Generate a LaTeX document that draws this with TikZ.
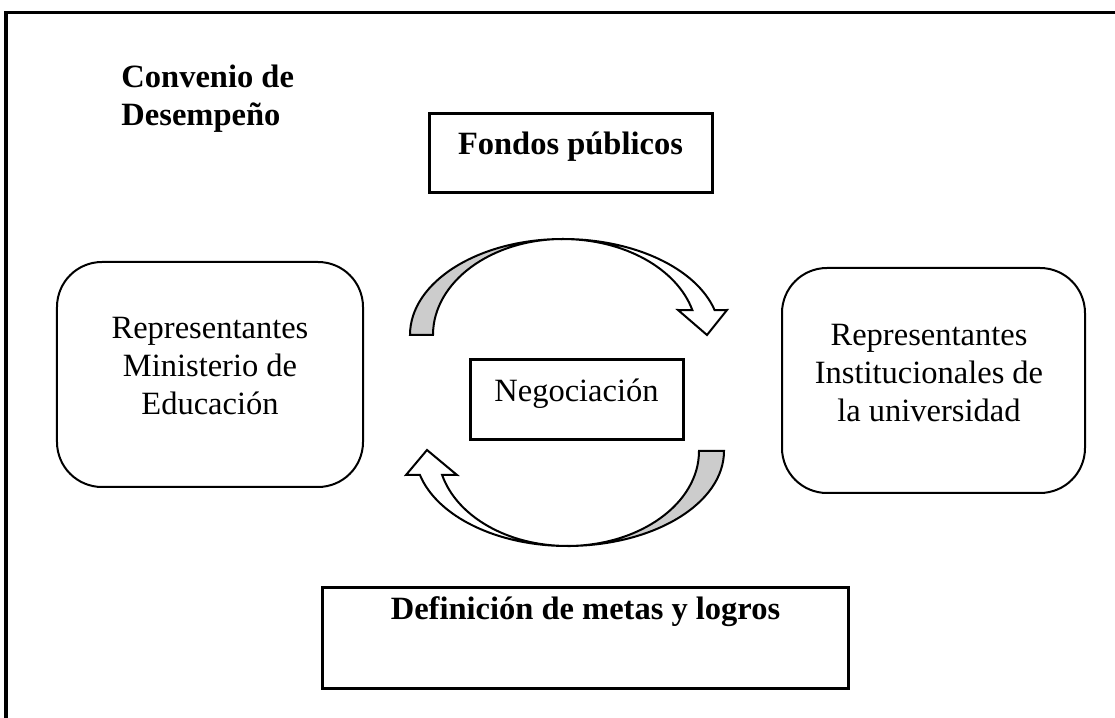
\documentclass[tikz,border=0pt]{standalone}
\usepackage{fontspec}
\setmainfont{Liberation Serif}
\usetikzlibrary{positioning}

\tikzset{
  txt/.style={font=\fontsize{13}{15.2}\selectfont},
  boldtxt/.style={font=\fontsize{13}{15.2}\selectfont\bfseries},
  plainbox/.style={draw, line width=1.2pt, inner xsep=0pt, inner ysep=0pt, txt},
  roundbox/.style={draw, line width=0.8pt, rounded corners=18pt},
  backband/.style={draw, line width=0.8pt, fill=black!20, line join=miter},
  frontband/.style={draw, line width=0.8pt, fill=white, line join=miter}
}

\begin{document}
\begin{tikzpicture}[x=0.4pt, y=-0.4pt]

        \useasboundingbox (0,0) rectangle (1115,718);

        % outer frame
        \draw[line width=1.2pt] (6,718) -- (6,13) -- (1115,13);

        \node[boldtxt, align=left, inner sep=0pt, anchor=north west]
          (convenio) at (121,64) {Convenio de\\Desempeño};

        \begin{scope}[every node/.style={plainbox}]
          \node[boldtxt, minimum width=113.2pt, text height=16.4pt, text depth=15.2pt]
            (fondos) at (570.5,112) [anchor=north] {Fondos públicos};
          \node[minimum width=85.2pt, text height=16.8pt, text depth=15.2pt]
            (nego) at (576.5,358) [anchor=north] {Negociación};
          \node[boldtxt, minimum width=210pt, text height=12.8pt, text depth=27.6pt]
            (metas) at (585.5,586) [anchor=north] {Definición de metas y logros};
        \end{scope}

        \begin{scope}[every node/.style={roundbox}]
          \node[minimum width=122.4pt, minimum height=90pt] (mined) at (210,374.5) {};
          \node[minimum width=121.2pt, minimum height=90pt] (univ) at (933.5,380.5) {};
        \end{scope}

        \node[txt, align=center] (minedtxt) at (210,366.5)
          {Representantes\\Ministerio de\\Educación};
        \node[txt, align=center] (univtxt) at (929,373.5)
          {Representantes\\Institucionales de\\la universidad};

        % curved block arrows
        \filldraw[backband] (410,335)
          arc[start angle=180, end angle=90, x radius=61.2pt, y radius=38.4pt]
          arc[start angle=90, end angle=180, x radius=52pt, y radius=38.4pt] -- cycle;
        \filldraw[frontband] (563,239)
          arc[start angle=90, end angle=15, x radius=62.8pt, y radius=38.4pt]
          -- (727,310) -- (707,335) -- (678,310) -- (692.4,310.2)
          arc[start angle=15, end angle=90, x radius=53.6pt, y radius=38.4pt] -- cycle;

        \filldraw[backband] (724,451)
          arc[start angle=0, end angle=-90, x radius=62.8pt, y radius=38pt]
          arc[start angle=-90, end angle=0, x radius=52.8pt, y radius=38pt] -- cycle;
        \filldraw[frontband] (567,546)
          arc[start angle=-90, end angle=-165.4, x radius=60.8pt, y radius=38pt]
          -- (406,475) -- (427,450) -- (457,475) -- (442.1,474.9)
          arc[start angle=-165.4, end angle=-90, x radius=51.6pt, y radius=38pt] -- cycle;

      \end{tikzpicture}
\end{document}
